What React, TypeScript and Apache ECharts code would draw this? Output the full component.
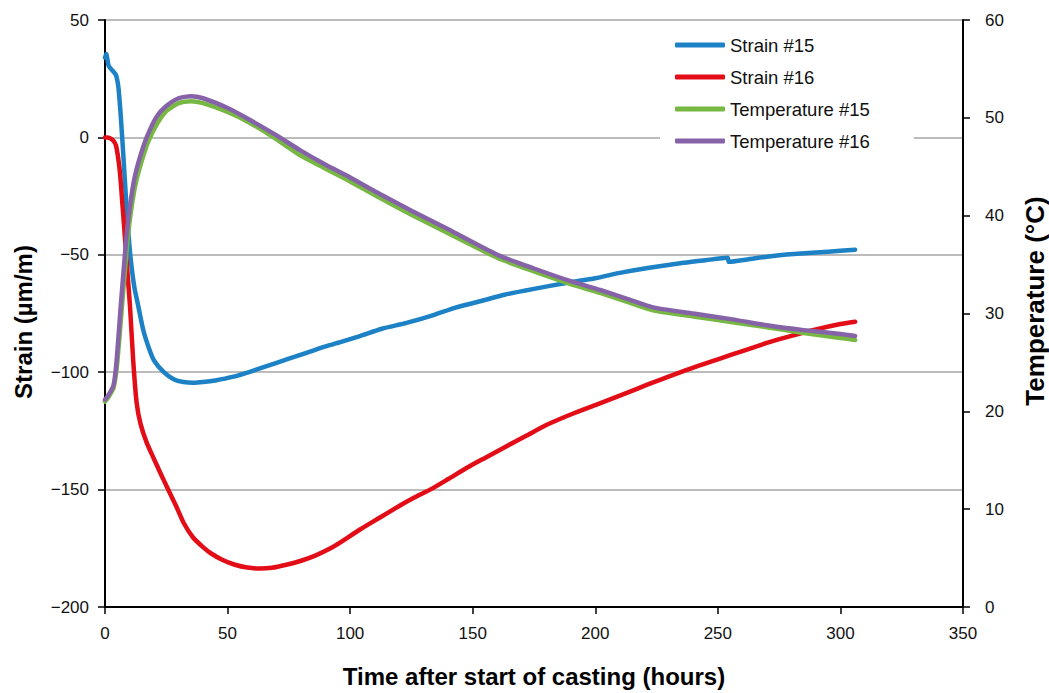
import React, { useEffect, useRef } from "react";
import * as echarts from "echarts";

const xTicks = [0, 50, 100, 150, 200, 250, 300, 350];
const strainTicks = [-200, -150, -100, -50, 0, 50];
const tempTicks = [0, 10, 20, 30, 40, 50, 60];

const seriesNames = ["Strain #15", "Strain #16", "Temperature #15", "Temperature #16"];
const seriesColors = ["#1C82C5", "#E30D17", "#77B843", "#8663A8"];

const xTitle = "Time after start of casting (hours)";
const leftTitle = "Strain (\u00B5m/m)";
const rightTitle = "Temperature (\u00B0C)";

// [hours, µm/m]
const strain15: [number, number][] = [
  [0, 34], [0.5, 35.5], [1.5, 30.5], [3, 28.5], [4.5, 26.5], [5.5, 21], [6.5, 8], [7.5, -8],
  [8.5, -25], [9.5, -40], [10.5, -52], [12, -64], [13.6, -72], [15.6, -82], [18, -90], [20, -95],
  [24, -100], [28, -103], [32, -104.2], [36, -104.5], [40, -104.2], [45, -103.5], [52, -102],
  [60, -99.5], [70, -96], [80, -92.5], [90, -89], [96, -87.2], [104, -84.6], [113, -81.5],
  [123, -79], [133, -76], [143, -72.5], [153, -69.8], [163, -67], [175, -64.5], [188, -62],
  [200, -60], [210, -57.7], [222, -55.5], [236, -53.4], [245, -52.3], [254, -51.3], [254.5, -53],
  [262, -52], [270, -50.8], [278, -49.9], [290, -49], [300, -48.3], [306, -47.8],
];

const strain16: [number, number][] = [
  [0, 0], [1, 0], [3, -1], [4.5, -3.5], [6, -14], [7, -27], [8.2, -43.5], [9.2, -58], [10.2, -72],
  [11.5, -95], [12.9, -113], [14.5, -122], [17, -130], [20, -137], [22.4, -142.5], [26, -150.5],
  [29, -157], [32, -164], [36, -170.5], [40, -174.5], [43, -177], [48, -180], [53, -182],
  [58, -183.2], [63, -183.6], [68, -183.3], [74, -182], [80, -180.3], [86, -178], [92, -175],
  [96, -172.5], [104, -167], [112, -162], [120, -157], [126, -153.5], [133, -149.8], [140, -145.5],
  [148, -140.5], [155, -136.5], [164, -131.4], [172, -127], [180, -122.5], [190, -118],
  [200, -114], [210, -110], [222, -105], [236, -99.5], [250, -94.5], [260, -91], [270, -87.5],
  [280, -84.5], [290, -81.8], [300, -79.5], [306, -78.5],
];

// [hours, °C]
const temp15: [number, number][] = [
  [0, 21.0], [1, 21.3], [3.5, 22.4], [4.8, 24.5], [5.8, 27.3], [7, 31], [8, 34], [9.3, 37.8],
  [10.8, 40.8], [12.6, 43.4], [15, 45.6], [17.5, 47.5], [21.5, 49.5], [25, 50.7], [30, 51.5],
  [35, 51.7], [40, 51.5], [50, 50.6], [59, 49.5], [70, 47.8], [79.5, 46.2], [90, 44.8],
  [100, 43.5], [110, 42.1], [125, 40.1], [140, 38.2], [160, 35.7], [175, 34.3], [190, 33.0],
  [202, 32.1], [213, 31.2], [224, 30.3], [240, 29.7], [256, 29.1], [270, 28.6], [285, 28.0],
  [300, 27.5], [306, 27.3],
];

const temp16: [number, number][] = [
  [0, 21.2], [1, 21.5], [3.4, 22.6], [4.5, 24.5], [5.4, 27.3], [6.5, 31], [7.5, 34.1],
  [8.8, 38], [10.2, 41], [12, 43.8], [14.3, 46], [17, 48], [21, 50.1], [25, 51.2], [30, 52],
  [35, 52.2], [40, 52], [50, 51], [59, 49.8], [70, 48.2], [79.5, 46.7], [90, 45.2], [100, 43.9],
  [110, 42.5], [125, 40.5], [140, 38.6], [160, 36.0], [175, 34.6], [190, 33.3], [202, 32.4],
  [213, 31.5], [224, 30.6], [240, 30.0], [256, 29.4], [270, 28.8], [285, 28.3], [300, 27.9],
  [306, 27.7],
];

const seriesData = [strain15, strain16, temp15, temp16];
const seriesAxis = [0, 0, 1, 1];

const FONT = "'Liberation Sans', Arial, sans-serif";
const minus = (v: number) => String(v).replace("-", "\u2212");

export default function App() {
  const ref = useRef<HTMLDivElement>(null);
  useEffect(() => {
    if (!ref.current) return;
    const chart = echarts.init(ref.current, null, { renderer: "svg", width: 1049, height: 693 });
    const axisLine = { show: true, onZero: false, lineStyle: { color: "#000", width: 2 } };
    const axisTick = { show: true, length: 7, inside: false, lineStyle: { color: "#000", width: 1.5 } };
    const nameStyle = { fontSize: 24, fontWeight: "bold", color: "#000", fontFamily: FONT };
    chart.setOption({
      animation: false,
      backgroundColor: "#fff",
      textStyle: { fontFamily: FONT },
      grid: { left: 105, width: 858, top: 20, height: 588, containLabel: false },
      legend: {
        orient: "vertical",
        left: 660,
        top: 30,
        padding: [5, 44, 5, 15],
        backgroundColor: "#fff",
        itemGap: 12,
        itemWidth: 50,
        itemHeight: 5,
        icon: "roundRect",
        textStyle: { fontSize: 18.5, color: "#111", fontFamily: FONT, lineHeight: 20 },
        data: seriesNames,
      },
      graphic: [
        {
          type: "text",
          x: 23,
          y: 322,
          rotation: Math.PI / 2,
          style: { text: leftTitle, ...nameStyle, fill: "#000", align: "center", verticalAlign: "middle" },
        },
        {
          type: "text",
          x: 1035,
          y: 301,
          rotation: Math.PI / 2,
          style: { text: rightTitle, ...nameStyle, fontSize: 26, fill: "#000", align: "center", verticalAlign: "middle" },
        },
      ],
      xAxis: {
        type: "value",
        min: xTicks[0],
        max: xTicks[xTicks.length - 1],
        interval: 50,
        name: xTitle,
        nameLocation: "middle",
        nameGap: 57,
        nameTextStyle: nameStyle,
        axisLine,
        axisTick,
        splitLine: { show: false },
        axisLabel: { fontSize: 17, color: "#111", margin: 18, fontFamily: FONT },
      },
      yAxis: [
        {
          type: "value",
          min: strainTicks[0],
          max: strainTicks[strainTicks.length - 1],
          interval: 50,
          axisLine,
          axisTick,
          splitLine: { show: true, lineStyle: { color: "#A6A6A6", width: 1.5 } },
          axisLabel: { fontSize: 17, color: "#111", margin: 16, fontFamily: FONT, formatter: minus },
        },
        {
          type: "value",
          position: "right",
          min: tempTicks[0],
          max: tempTicks[tempTicks.length - 1],
          interval: 10,
          axisLine,
          axisTick,
          splitLine: { show: false },
          axisLabel: { fontSize: 17, color: "#111", margin: 22, fontFamily: FONT },
        },
      ],
      series: seriesNames.map((name, i) => ({
        name,
        type: "line",
        yAxisIndex: seriesAxis[i],
        data: seriesData[i],
        showSymbol: false,
        symbol: "none",
        smooth: 0.2,
        color: seriesColors[i],
        lineStyle: { width: 4.5, color: seriesColors[i], cap: "round", join: "round" },
        z: 2 + i,
      })),
    });
    return () => chart.dispose();
  }, []);
  return (
    <div
      ref={ref}
      style={{ width: 1049, height: 693, position: "fixed", left: 0, top: 0, overflow: "hidden" }}
    />
  );
}
